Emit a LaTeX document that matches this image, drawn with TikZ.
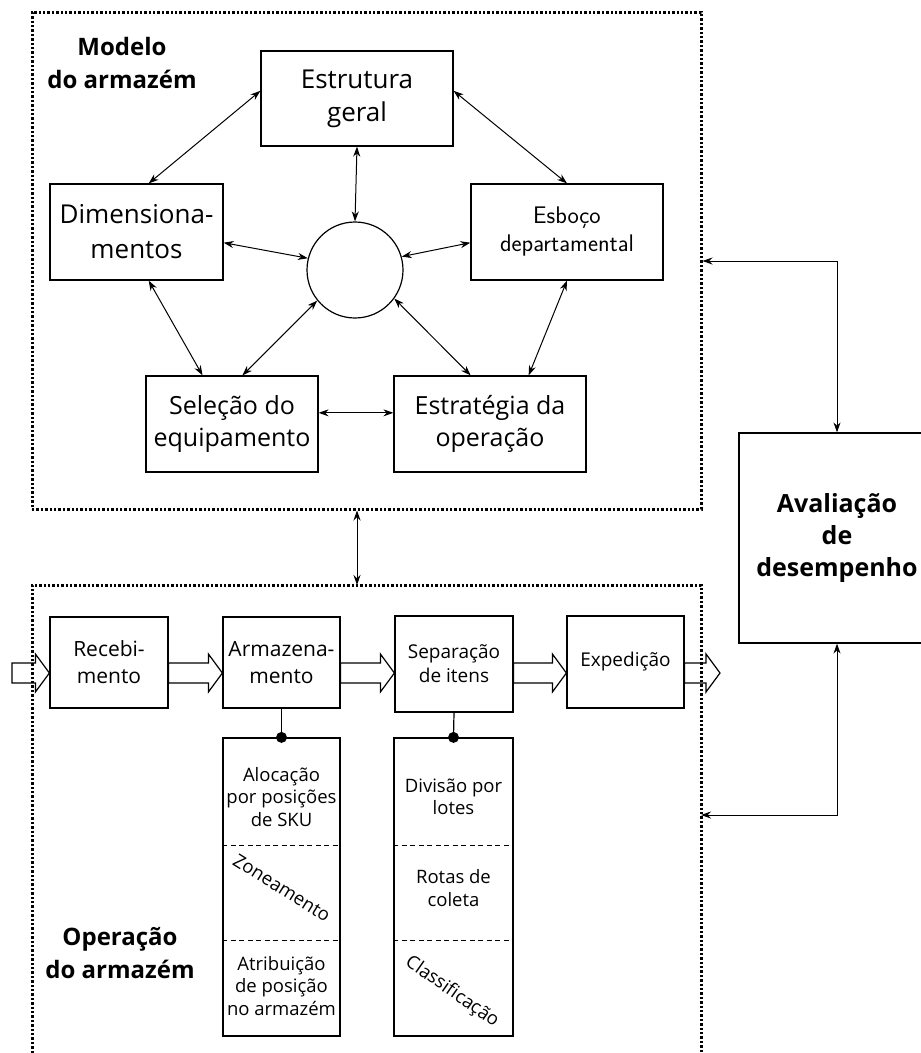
\documentclass[tikz,border=0pt]{standalone}
\usepackage{fontspec}
\setmainfont{Open Sans}
\usetikzlibrary{calc,arrows.meta}

% hollow process arrow between two points (y taken from the first point)
\newcommand\blockarrow[2]{%
  \draw[hollow] let \p1=#1, \p2=#2 in
    (\x1,\y1+10) -- (\x2-14,\y1+10) -- (\x2-14,\y1+19) -- (\x2,\y1)
    -- (\x2-14,\y1-19) -- (\x2-14,\y1-10) -- (\x1,\y1-10) -- cycle;}
\newcommand\coltextfont{\fontsize{18.5}{22.5}\selectfont}

\begin{document}
\begin{tikzpicture}[x=1pt,y=-1pt,
  box/.style={draw, line width=1.2pt, fill=white, inner sep=0pt, align=center},
  frame/.style={draw, line width=3pt, dash pattern=on 2.4pt off 2pt},
  link/.style={<->, >={Stealth[length=10pt,width=7pt]}, line width=1pt},
  hollow/.style={draw, line width=1.2pt},
  sublist/.style={draw, dash pattern=on 5pt off 3.5pt, line width=1.2pt},
  coltext/.style={align=center, inner sep=0pt, font=\coltextfont},
  heading/.style={align=center, inner sep=0pt, font=\bfseries\fontsize{24}{33}\selectfont}]
\useasboundingbox (0,0) rectangle (921,1053);

% ---------- warehouse model ----------
\node[frame, minimum width=669, minimum height=497, inner sep=0pt] (mframe) at (366.5,260.5) {};
\node[heading] (mtitle) at (122,63) {Modelo\\do armazém};

\node[box, minimum width=192, minimum height=95, font=\fontsize{26}{33}\selectfont] (eg) at (357,98.5) {Estrutura\\geral};
\node[box, minimum width=173, minimum height=96, font=\fontsize{26}{35}\selectfont] (dim) at (136.5,232) {Dimensiona-\\mentos};
\node[box, minimum width=192, minimum height=96, font=\sffamily\fontsize{24}{28}\selectfont] (esb) at (567,232) {Esboço\\departamental};
\node[box, minimum width=172, minimum height=96, font=\fontsize{25}{32}\selectfont] (sel) at (232,424) {Seleção do\\equipamento};
\node[box, minimum width=192, minimum height=96, font=\fontsize{25}{32}\selectfont] (est) at (490,424) {Estratégia da\\operação};
\node[draw, circle, line width=1.2pt, minimum size=96, inner sep=0pt] (hub) at (355,270) {};

\draw[link] ($(eg.north west)!0.42!(eg.south west)$) -- ($(dim.north west)!0.57!(dim.north east)$);
\draw[link] ($(eg.north east)!0.42!(eg.south east)$) -- (esb.north);
\draw[link] (eg.south) -- (hub.north);
\draw[link] ($(dim.north east)!0.61!(dim.south east)$) -- (hub.166);
\draw[link] ($(esb.north west)!0.61!(esb.south west)$) -- (hub.16);
\draw[link] ($(dim.south west)!0.57!(dim.south east)$) -- ($(sel.north west)!0.33!(sel.north east)$);
\draw[link] (hub.219) -- ($(sel.north west)!0.56!(sel.north east)$);
\draw[link] (hub.324) -- ($(est.north west)!0.4!(est.north east)$);
\draw[link] (esb.south) -- ($(est.north west)!0.7!(est.north east)$);
\draw[link] ($(sel.north east)!0.385!(sel.south east)$) -- ($(est.north west)!0.385!(est.south west)$);

% ---------- warehouse operation ----------
\draw[frame] (32,1053) -- (32,585) -- (701,585) -- (701,1053);
\coordinate (otop) at (357,585);
\coordinate (oright) at (701,815);
\node[heading] (otitle) at (120,953) {Operação\\do armazém};

\draw[link] (mframe.south -| eg.south) -- (otop);

\node[box, minimum width=118, minimum height=91, font=\fontsize{21}{27}\selectfont] (rec) at (109,662.5) {Recebi-\\mento};
\node[box, minimum width=117, minimum height=91, font=\fontsize{21}{27}\selectfont] (arm) at (281.5,662.5) {Armazena-\\mento};
\node[box, minimum width=118, minimum height=96, font=\fontsize{19}{24}\selectfont] (sep) at (454,664) {Separação\\de itens};
\node[box, minimum width=117, minimum height=92, font=\fontsize{19}{24}\selectfont] (exp) at (625.5,662) {Expedição};

\coordinate (in) at (12,673);
\coordinate (out) at (720,673);
\blockarrow{(in)}{(rec.west)}
\blockarrow{(rec.east |- in)}{(arm.west)}
\blockarrow{(arm.east |- in)}{(sep.west)}
\blockarrow{(sep.east |- in)}{(exp.west)}
\blockarrow{(exp.east |- in)}{(out)}

% sub-activities of storage and picking
\node[box, minimum width=117, minimum height=298] (colA) at (281.5,887) {};
\node[box, minimum width=119, minimum height=298] (colB) at (453.5,887) {};
\foreach \c in {colA,colB}{
  \draw[sublist] ($(\c.north west)!0.362!(\c.south west)$) -- ($(\c.north east)!0.362!(\c.south east)$);
  \draw[sublist] ($(\c.north west)!0.678!(\c.south west)$) -- ($(\c.north east)!0.678!(\c.south east)$);
}
\draw[line width=1.2pt] (arm.south) -- (colA.north);
\draw[line width=1.2pt] (sep.south) -- (colB.north);
\fill (colA.north) circle (5.5pt);
\fill (colB.north) circle (5.5pt);

\node[coltext] (a1) at (281.5,797) {Alocação\\por posições\\de SKU};
\node[coltext, rotate=-32] (a2) at (282,888) {Zoneamento};
\node[coltext] (a3) at (281.5,986) {Atribuição\\de posição\\no armazém};
\node[coltext] (b1) at (453.5,797) {Divisão por\\lotes};
\node[coltext] (b2) at (453.5,888) {Rotas de\\coleta};
\node[coltext, rotate=-35] (b3) at (452,992) {Classificação};

% ---------- performance evaluation ----------
\node[box, minimum width=196, minimum height=210, font=\bfseries\fontsize{25}{32}\selectfont] (aval) at (837,538) {Avaliação\\de\\desempenho};
\draw[link] (aval.north) |- ($(mframe.north east)!(0,261)!(mframe.south east)$);
\draw[link] (aval.south) |- (oright);
\end{tikzpicture}
\end{document}
